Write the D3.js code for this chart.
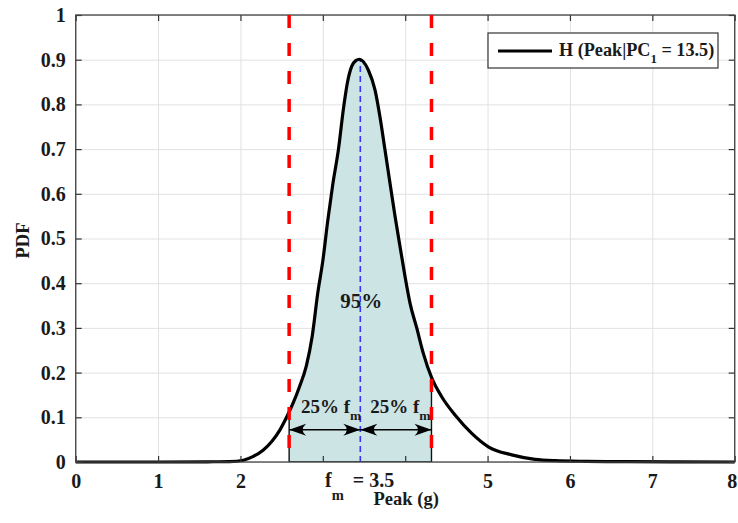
<!DOCTYPE html>
<html><head><meta charset="utf-8">
<script src="https://cdn.jsdelivr.net/npm/d3@7"></script>
<style>
body{margin:0;background:#fff}
svg{display:block}
text{font-family:"Liberation Serif","Times New Roman",serif;font-weight:bold;fill:#1a1a1a}
</style>
</head><body><svg id="c" width="738" height="523"></svg>
<script>
// ---- data ----
const peakG = [0, 1.0, 1.6, 1.87, 2.035, 2.15, 2.278, 2.38, 2.48, 2.56, 2.64, 2.72, 2.80, 2.87, 2.94, 3.00, 3.06, 3.12, 3.19, 3.25, 3.30, 3.35, 3.40, 3.445,
  3.49, 3.552, 3.634, 3.694, 3.755, 3.816, 3.877, 3.958, 3.998, 4.059, 4.14, 4.22, 4.322, 4.443, 4.605, 4.808, 5.009, 5.293, 5.576, 5.819, 6.2, 6.7, 7.3, 8];
const pdfValues = [0, 0, 0.0005, 0.001, 0.004, 0.012, 0.027, 0.046, 0.072, 0.100, 0.132, 0.170, 0.215, 0.28, 0.38, 0.45, 0.54, 0.62, 0.70, 0.79, 0.85, 0.885, 0.898, 0.901,
  0.896, 0.877, 0.832, 0.772, 0.698, 0.623, 0.549, 0.459, 0.415, 0.355, 0.30, 0.243, 0.188, 0.146, 0.105, 0.064, 0.034, 0.016, 0.006, 0.003, 0.0015, 0.0007, 0.0002, 0];
const xTickValues = [0, 1, 2, 3, 4, 5, 6, 7, 8];
const xTickLabels = ["0", "1", "2", "", "", "5", "6", "7", "8"];
const yTickValues = [0, 0.1, 0.2, 0.3, 0.4, 0.5, 0.6, 0.7, 0.8, 0.9, 1];
const yTickLabels = ["0", "0.1", "0.2", "0.3", "0.4", "0.5", "0.6", "0.7", "0.8", "0.9", "1"];
const fmValue = 3.455;
const fmLabel = "3.5";
const bounds = [2.591, 4.319];
const peakPdf = 0.901;
const areaLabel = "95%";
const legendMain = "H (Peak|PC";
const legendSub = "1";
const legendTail = " = 13.5)";

// ---- layout ----
const svg = d3.select("#c");
const L = 75.7, R = 734.7, T = 15, B = 462;
const x = d3.scaleLinear().domain([0, 8]).range([L, R]);
const y = d3.scaleLinear().domain([0, 1]).range([B, T]);
const pts = peakG.map((g, i) => [g, pdfValues[i]]);
const FONT = '"Liberation Serif","Times New Roman",serif';

// grid
const gx = svg.append("g").attr("transform", `translate(0,${B})`)
  .call(d3.axisBottom(x).tickValues(xTickValues).tickSize(-(B - T)).tickFormat(""));
const gy = svg.append("g").attr("transform", `translate(${L},0)`)
  .call(d3.axisLeft(y).tickValues(yTickValues).tickSize(-(R - L)).tickFormat(""));
[gx, gy].forEach(g => { g.select(".domain").remove(); g.selectAll("line").attr("stroke", "#e2e2e2").attr("stroke-width", 1); });

// shaded area
const areaGen = d3.area().x(d => x(d[0])).y0(y(0)).y1(d => y(d[1])).curve(d3.curveMonotoneX);
svg.append("clipPath").attr("id", "under").append("path").attr("d", areaGen(pts));
svg.append("rect")
  .attr("x", x(bounds[0])).attr("y", y(1)).attr("width", x(bounds[1]) - x(bounds[0])).attr("height", y(0) - y(1))
  .attr("fill", "#cce4e4").attr("stroke", "#111").attr("stroke-width", 1.4)
  .attr("clip-path", "url(#under)");

// fm line
svg.append("line").attr("x1", x(fmValue)).attr("x2", x(fmValue)).attr("y1", y(0)).attr("y2", y(peakPdf))
  .attr("stroke", "#3535ff").attr("stroke-width", 1.6).attr("stroke-dasharray", "6,4");

// curve
const lineGen = d3.line().x(d => x(d[0])).y(d => y(d[1])).curve(d3.curveMonotoneX);
svg.append("path").attr("d", lineGen(pts)).attr("fill", "none").attr("stroke", "#000").attr("stroke-width", 3.2);

// axes (ticks inside, box)
const ax = svg.append("g").attr("transform", `translate(0,${B})`)
  .call(d3.axisBottom(x).tickValues(xTickValues).tickFormat((d, i) => xTickLabels[i]).tickSizeInner(-6).tickSizeOuter(0).tickPadding(12));
const ay = svg.append("g").attr("transform", `translate(${L},0)`)
  .call(d3.axisLeft(y).tickValues(yTickValues).tickFormat((d, i) => yTickLabels[i]).tickSizeInner(-6).tickSizeOuter(0).tickPadding(10));
const at = svg.append("g").attr("transform", `translate(0,${T})`)
  .call(d3.axisTop(x).tickValues(xTickValues).tickFormat("").tickSizeInner(-6).tickSizeOuter(0));
const ar = svg.append("g").attr("transform", `translate(${R},0)`)
  .call(d3.axisRight(y).tickValues(yTickValues).tickFormat("").tickSizeInner(-6).tickSizeOuter(0));
[ax, ay, at, ar].forEach(g => {
  g.select(".domain").remove();
  g.selectAll("line").attr("stroke", "#333").attr("stroke-width", 1.2);
  g.selectAll("text").attr("font-size", 20).attr("fill", "#1a1a1a")
    .style("font-family", FONT).style("font-weight", "bold");
});
// keep the last x label inside the canvas
ax.selectAll(".tick").filter(d => d === 8).select("text").attr("text-anchor", "end").attr("dx", 2);
svg.append("rect").attr("x", L).attr("y", T).attr("width", R - L).attr("height", B - T)
  .attr("fill", "none").attr("stroke", "#444").attr("stroke-width", 1.3);

// red bounds
bounds.forEach(b => {
  svg.append("line").attr("x1", x(b)).attr("x2", x(b)).attr("y1", y(1)).attr("y2", y(0))
    .attr("stroke", "#ff0000").attr("stroke-width", 3.5).attr("stroke-dasharray", "13,15");
});

// arrows
function head(tx, ty, dir) {
  const Lh = 17, W = 6, N = 10;
  return `M${tx},${ty} L${tx + dir * Lh},${ty - W} Q${tx + dir * N},${ty} ${tx + dir * Lh},${ty + W} Z`;
}
function arrow(a, b, v) {
  const x1 = x(a), x2 = x(b), yy = y(v);
  svg.append("line").attr("x1", x1).attr("x2", x2).attr("y1", yy).attr("y2", yy).attr("stroke", "#000").attr("stroke-width", 1.4);
  svg.append("path").attr("d", head(x1, yy, 1)).attr("fill", "#000");
  svg.append("path").attr("d", head(x2, yy, -1)).attr("fill", "#000");
}
arrow(bounds[0], fmValue, 0.072);
arrow(fmValue, bounds[1], 0.072);

function pctLabel(xs) {
  const t = svg.append("text").attr("x", x(xs)).attr("y", y(0.11)).attr("font-size", 19);
  t.append("tspan").text("25% f");
  t.append("tspan").attr("font-size", 13.5).attr("dy", 7).text("m");
}
pctLabel(2.735);
pctLabel(3.575);

svg.append("text").attr("x", x(fmValue) + 1).attr("y", y(0.3445)).attr("text-anchor", "middle").attr("font-size", 21).text(areaLabel);

// fm axis label
const fmT = svg.append("text").attr("x", 325).attr("y", 487).attr("font-size", 20);
fmT.append("tspan").text("f");
fmT.append("tspan").attr("font-size", 14.5).attr("dy", 13).text("m");
fmT.append("tspan").attr("dy", -13).attr("dx", 4).text(" = " + fmLabel);

// axis titles
svg.append("text").attr("x", (L + R) / 2 + 1).attr("y", 505).attr("text-anchor", "middle").attr("font-size", 18.5).text("Peak (g)");
svg.append("text").attr("transform", `translate(29,${(T + B) / 2 + 2}) rotate(-90)`).attr("text-anchor", "middle").attr("font-size", 18.5).text("PDF");

// legend
const lg = svg.append("g");
lg.append("rect").attr("x", 488).attr("y", 33).attr("width", 230).attr("height", 35).attr("fill", "#fff").attr("stroke", "#333").attr("stroke-width", 1.2);
lg.append("line").attr("x1", 498).attr("x2", 552).attr("y1", 51).attr("y2", 51).attr("stroke", "#000").attr("stroke-width", 3);
const lt = lg.append("text").attr("x", 559).attr("y", 56).attr("font-size", 18.2);
lt.append("tspan").text(legendMain);
lt.append("tspan").attr("font-size", 13).attr("dy", 7).text(legendSub);
lt.append("tspan").attr("dy", -7).text(legendTail);
</script>
</body></html>
